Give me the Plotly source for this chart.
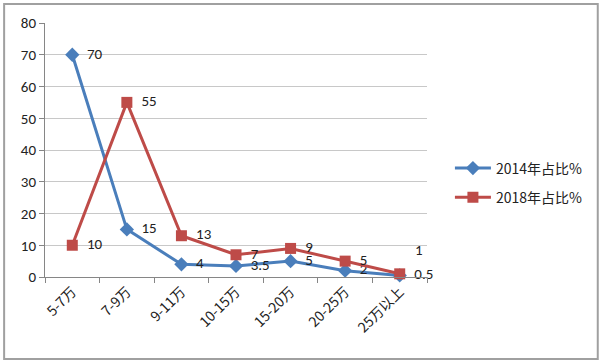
import plotly.graph_objects as go

categories = ["5-7万", "7-9万", "9-11万", "10-15万", "15-20万", "20-25万", "25万以上"]
series_2014 = [70, 15, 4, 3.5, 5, 2, 0.5]
series_2018 = [10, 55, 13, 7, 9, 5, 1]
name_2014 = "2014年占比%"
name_2018 = "2018年占比%"
y_ticks = [0, 10, 20, 30, 40, 50, 60, 70, 80]

FONT = "Carlito, Liberation Sans, Noto Sans CJK SC, sans-serif"

def fmt(v):
    return str(int(v)) if float(v).is_integer() else str(v)

text_2014 = ["  " + fmt(v) for v in series_2014]
text_2018 = ["  " + fmt(v) for v in series_2018]
text_2018[-1] = ""

fig = go.Figure()
fig.add_trace(go.Scatter(
    x=categories, y=series_2014, name=name_2014, mode="lines+markers+text",
    legendgroup="a", cliponaxis=False,
    line=dict(color="#4A7EBB", width=3),
    marker=dict(symbol="diamond", size=11, color="#4A7EBB"),
    text=text_2014, textposition="middle right",
    textfont=dict(size=15, color="#222222", family=FONT),
))
fig.add_trace(go.Scatter(
    x=categories, y=series_2018, name=name_2018, mode="lines+markers+text",
    legendgroup="b", cliponaxis=False,
    line=dict(color="#BE4B48", width=3),
    marker=dict(symbol="square", size=11, color="#BE4B48"),
    text=text_2018, textposition="middle right",
    textfont=dict(size=15, color="#222222", family=FONT),
))

fig.add_annotation(
    x=categories[-1], y=series_2018[-1], text=fmt(series_2018[-1]),
    showarrow=False, xshift=19, yshift=24,
    font=dict(size=15, color="#222222", family=FONT),
)

fig.add_shape(type="rect", xref="paper", yref="paper",
              x0=-0.107, x1=1.447, y0=-0.323, y1=1.075,
              line=dict(color="#A0A0A0", width=2), layer="below")

fig.update_layout(
    width=600, height=364,
    margin=dict(l=45, r=173, t=23, b=87),
    paper_bgcolor="white", plot_bgcolor="white",
    font=dict(family=FONT, color="#222222"),
    showlegend=True,
    legend=dict(x=1.06, y=0.37, xanchor="left", yanchor="middle",
                font=dict(size=14, family="Noto Sans CJK SC, sans-serif", color="#222222"),
                tracegroupgap=8, itemwidth=36),
    xaxis=dict(
        type="category", range=[-0.5, 6.5],
        tickson="boundaries", ticks="outside", ticklen=5, tickcolor="#868686",
        showline=True, linecolor="#868686", linewidth=1, showgrid=False,
        tickangle=-45,
        tickfont=dict(size=14, family="Noto Sans CJK SC, sans-serif", color="#222222"),
    ),
    yaxis=dict(
        range=[0, 80], tickvals=y_ticks, showgrid=True, gridcolor="#C8C8C8",
        gridwidth=1, showline=True, linecolor="#868686", ticks="outside",
        ticklen=5, tickcolor="#868686", zeroline=False,
        tickfont=dict(size=15, family=FONT, color="#222222"),
    ),
)

fig.write_html("out.html", config={"displayModeBar": False},
               post_script="document.body.style.margin='0';document.body.style.overflow='hidden';")
